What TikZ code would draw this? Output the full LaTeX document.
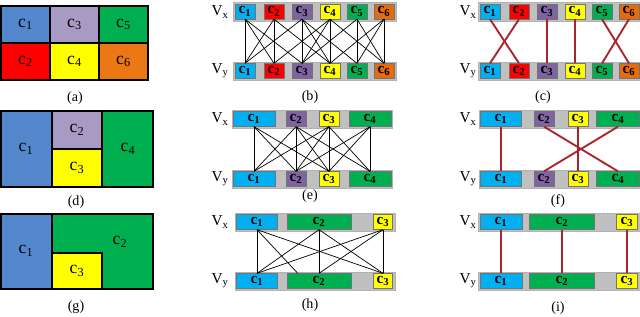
\documentclass[tikz,border=0pt]{standalone}
\usepackage{fontspec}
\setmainfont{Liberation Serif}
\usetikzlibrary{calc}
\definecolor{rblue}{RGB}{85,135,205}
\definecolor{rlav}{RGB}{167,155,196}
\definecolor{rgreen}{RGB}{0,176,80}
\definecolor{rred}{RGB}{255,0,0}
\definecolor{ryellow}{RGB}{255,255,0}
\definecolor{rorange}{RGB}{235,120,20}
\definecolor{kcyan}{RGB}{0,176,240}
\definecolor{kpurple}{RGB}{128,100,162}
\definecolor{korange}{RGB}{228,108,10}
\definecolor{kgray}{RGB}{192,192,192}
\definecolor{linered}{RGB}{170,35,45}
\tikzset{cell/.style={draw=black!55,line width=0.3pt,inner sep=0pt,minimum height=0.45cm,font=\fontsize{13}{13}\selectfont\bfseries},
bar/.style={fill=kgray,draw=black!30,line width=0.3pt},
region/.style={draw=black,line width=0.9pt},
lbl/.style={font=\fontsize{15}{15}\selectfont,inner sep=0pt},
vlab/.style={font=\fontsize{13}{13}\selectfont,inner sep=0pt},
tag/.style={font=\fontsize{12}{12}\selectfont,inner sep=0pt},
link/.style={line width=0.6pt},
match/.style={draw=linered,line width=1.6pt}}

\begin{document}
\begin{tikzpicture}[x=0.03cm,y=-0.03cm]
\useasboundingbox (0,0) rectangle (640,317);
% (a)
\fill[rblue] (1,6) rectangle (50,43);
\fill[rlav] (50,6) rectangle (99,43);
\fill[rgreen] (99,6) rectangle (148,43);
\fill[rred] (1,43) rectangle (50,80);
\fill[ryellow] (50,43) rectangle (99,80);
\fill[rorange] (99,43) rectangle (148,80);
\draw[region] (1,6) rectangle (148,80);
\draw[region] (1,43)--(148,43) (50,6)--(50,80) (99,6)--(99,80);
\foreach \i/\x/\y in {1/25.5/24.5,2/25.5/61.5,3/74.5/24.5,4/74.5/61.5,5/123.5/24.5,6/123.5/61.5}{
	\node[lbl] (a\i) at (\x,\y) {c\textsubscript{\i}};
}
\node[tag] (taga) at (75,98) {(a)};
% (d)
\fill[rblue] (1,111) rectangle (52,187);
\fill[rlav] (52,111) rectangle (102,149);
\fill[ryellow] (52,149) rectangle (102,187);
\fill[rgreen] (102,111) rectangle (153,187);
\draw[region] (1,111) rectangle (153,187);
\draw[region] (52,111)--(52,187) (102,111)--(102,187) (52,149)--(102,149);
\foreach \i/\x/\y in {1/26/149,2/77/130,3/77/168,4/128/149}{
	\node[lbl] (d\i) at (\x,\y) {c\textsubscript{\i}};
}
\node[tag] (tagd) at (76,202) {(d)};
% (g)
\fill[rblue] (1,214) rectangle (52,289);
\fill[rgreen] (52,214)--(153,214)--(153,289)--(102,289)--(102,253)--(52,253)--cycle;
\fill[ryellow] (52,253) rectangle (102,289);
\draw[region] (1,214) rectangle (153,289);
\draw[region] (52,214)--(52,289) (52,253)-|(102,289);
\foreach \i/\x/\y in {1/26/251,2/120/242,3/77/271}{
	\node[lbl] (g\i) at (\x,\y) {c\textsubscript{\i}};
}
\node[tag] (tagg) at (76,307) {(g)};

% bars
\foreach \l/\y in {2/21,62/80}{
	\draw[bar] (233,\l) rectangle (396,\y);
	\draw[bar] (478,\l) rectangle (641,\y);
}
\foreach \l/\y in {110/128,170/188}{
	\draw[bar] (232,\l) rectangle (392,\y);
	\draw[bar] (479,\l) rectangle (641,\y);
}
\foreach \l/\y in {213/231,272/290}{
	\draw[bar] (235,\l) rectangle (395,\y);
	\draw[bar] (478,\l) rectangle (641,\y);
}
\foreach \p/\xa/\xb/\ya/\yb in {b/220/468/12/71,e/220/468/119/179,h/220/468/222/281}{
	\node[vlab] (\p vx) at (\xa,\ya) {V\textsubscript{x}};
	\node[vlab] (\p vy) at (\xa,\yb) {V\textsubscript{y}};
	\node[vlab] (\p vxr) at (\xb,\ya) {V\textsubscript{x}};
	\node[vlab] (\p vyr) at (\xb,\yb) {V\textsubscript{y}};
}

% (b) and (c)
\foreach \i/\x/\xr/\col in {1/245/490/kcyan,2/274/519/rred,3/302/547/kpurple,4/330/575/ryellow,5/357/602/rgreen,6/384/629/korange}{
	\node[cell,fill=\col,minimum width=0.6cm] (bx\i) at (\x,11.5) {c\textsubscript{\i}};
	\node[cell,fill=\col,minimum width=0.6cm] (by\i) at (\x,71) {c\textsubscript{\i}};
	\node[cell,fill=\col,minimum width=0.6cm] (cx\i) at (\xr,11.5) {c\textsubscript{\i}};
	\node[cell,fill=\col,minimum width=0.6cm] (cy\i) at (\xr,71) {c\textsubscript{\i}};
}
\foreach \i/\j in {1/1,1/2,1/3,2/1,2/2,2/4,3/1,3/3,3/4,3/5,4/2,4/3,4/4,4/6,5/3,5/5,5/6,6/4,6/5,6/6}{
	\draw[link] (bx\i.south)--(by\j.north);
}
\foreach \i/\j in {1/2,2/1,3/3,4/4,5/6,6/5}{
	\draw[match] (cx\i.south)--(cy\j.north);
}
\node[tag] (tagb) at (310,97) {(b)};
\node[tag] (tagc) at (543,97) {(c)};

% (e) and (f)
\foreach \i/\x/\w/\xr/\wr/\col in {1/254/1.26/501/1.23/kcyan,2/296/0.6/544/0.6/kpurple,3/329/0.6/578/0.6/ryellow,4/370/1.26/618/1.29/rgreen}{
	\node[cell,fill=\col,minimum width=\w cm] (ex\i) at (\x,119) {c\textsubscript{\i}};
	\node[cell,fill=\col,minimum width=\w cm] (ey\i) at (\x,179) {c\textsubscript{\i}};
	\node[cell,fill=\col,minimum width=\wr cm] (fx\i) at (\xr,119) {c\textsubscript{\i}};
	\node[cell,fill=\col,minimum width=\wr cm] (fy\i) at (\xr,179) {c\textsubscript{\i}};
}
\foreach \i/\j in {1/1,1/2,1/3,2/1,2/2,2/3,2/4,3/1,3/2,3/3,3/4,4/2,4/3,4/4}{
	\draw[link] (ex\i.south)--(ey\j.north);
}
\foreach \i/\j in {1/1,2/4,3/3,4/2}{
	\draw[match] (fx\i.south)--(fy\j.north);
}
\node[tag] (tage) at (310,196) {(e)};
\node[tag] (tagf) at (558,201) {(f)};

% (h) and (i)
\foreach \i/\x/\w/\xr/\wr/\col in {1/257/1.23/501/1.26/kcyan,2/319/1.92/562/1.95/rgreen,3/383/0.57/627/0.63/ryellow}{
	\node[cell,fill=\col,minimum width=\w cm] (hx\i) at (\x,222) {c\textsubscript{\i}};
	\node[cell,fill=\col,minimum width=\w cm] (hy\i) at (\x,281) {c\textsubscript{\i}};
	\node[cell,fill=\col,minimum width=\wr cm] (ix\i) at (\xr,222) {c\textsubscript{\i}};
	\node[cell,fill=\col,minimum width=\wr cm] (iy\i) at (\xr,281) {c\textsubscript{\i}};
}
\foreach \i/\j in {1/1,1/3,2/1,2/2,2/3,3/1,3/2,3/3}{
	\draw[link] (hx\i.south)--(hy\j.north);
}
\draw[link] (hx1.south)--($(hy2.north west)!0.17!(hy2.north east)$);
\foreach \i in {1,2,3}{
	\draw[match] (ix\i.south)--(iy\i.north);
}
\node[tag] (tagh) at (310,305) {(h)};
\node[tag] (tagi) at (558,308) {(i)};
\end{tikzpicture}
\end{document}
